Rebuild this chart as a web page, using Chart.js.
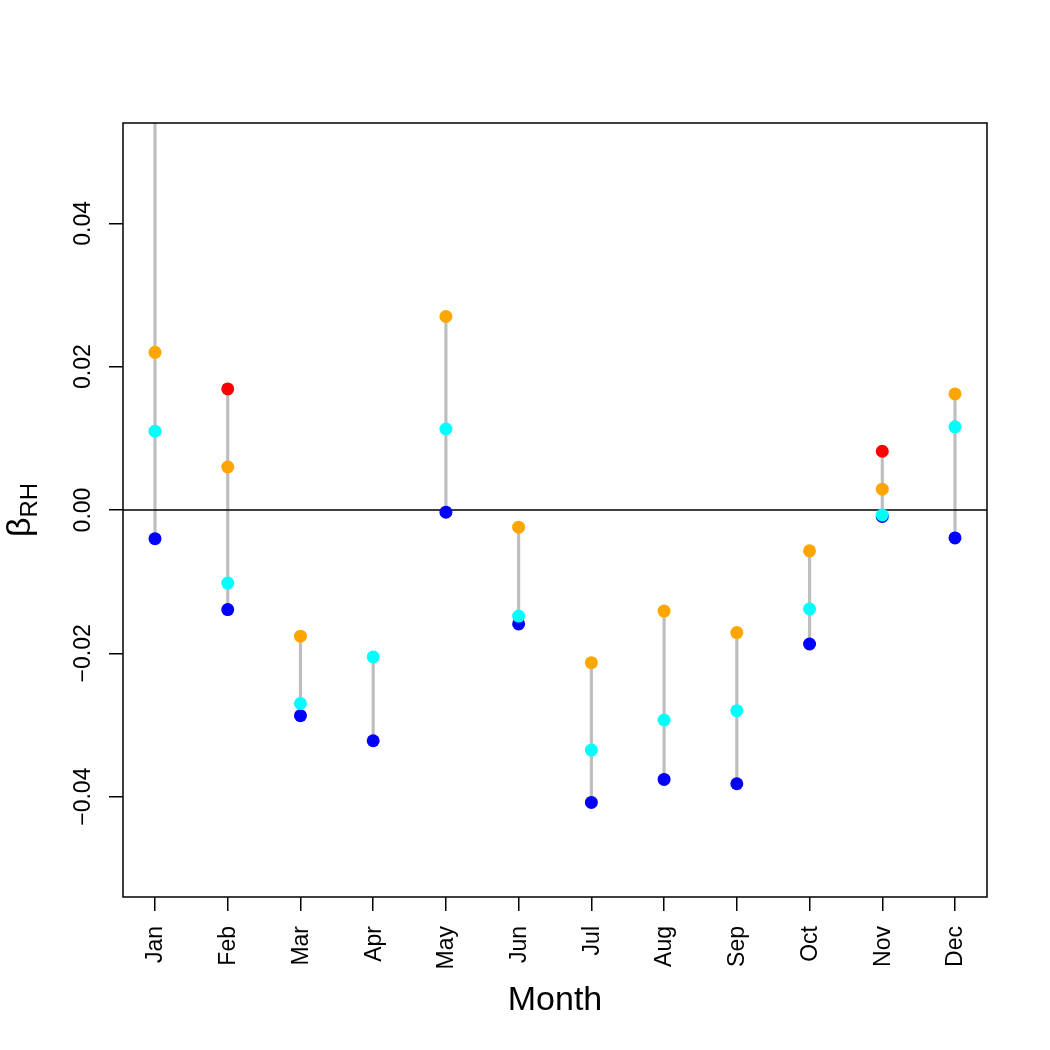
<!DOCTYPE html>
<html>
<head>
<meta charset="utf-8">
<script src="https://cdn.jsdelivr.net/npm/chart.js@4"></script>
<style>
  body { margin: 0; background: #fff; }
  canvas { display: block; }
</style>
</head>
<body>
<canvas id="chart" width="1050" height="1050"></canvas>
<script>
const months = ['Jan', 'Feb', 'Mar', 'Apr', 'May', 'Jun', 'Jul', 'Aug', 'Sep', 'Oct', 'Nov', 'Dec'];
const redVals = [0.070, 0.0169, null, null, null, null, null, null, null, null, 0.0082, null];
const orangeVals = [0.0220, 0.0060, -0.0176, null, 0.0270, -0.0024, -0.0213, -0.0141, -0.0171, -0.0057, 0.0029, 0.0162];
const cyanVals = [0.0110, -0.0102, -0.0270, -0.0205, 0.0113, -0.0148, -0.0335, -0.0293, -0.0280, -0.0138, -0.0007, 0.0116];
const blueVals = [-0.0040, -0.0139, -0.0287, -0.0322, -0.0003, -0.0159, -0.0408, -0.0376, -0.0382, -0.0187, -0.0009, -0.0039];
const yTicks = [-0.04, -0.02, 0.00, 0.02, 0.04];
const yTickLabels = ['\u22120.04', '\u22120.02', '0.00', '0.02', '0.04'];

const FONT = '"Liberation Sans", Arial, Helvetica, sans-serif';

function points(vals) {
    return vals.map((v, i) => ({ x: i + 1, y: v })).filter(p => p.y !== null);
}

// vertical range of each month, from the lowest to the highest point
const ranges = months.map((m, i) => {
    const vals = [redVals[i], orangeVals[i], cyanVals[i], blueVals[i]].filter(v => v !== null);
    return { x: i + 1, y: [Math.min(...vals), Math.max(...vals)] };
});

function dots(label, vals, color) {
    return {
        type: 'line',
        label: label,
        data: points(vals),
        showLine: false,
        pointRadius: 6.5,
        pointHoverRadius: 6.5,
        pointBackgroundColor: color,
        pointBorderWidth: 0,
        borderColor: color
    };
}

const rPlot = {
    id: 'rPlot',
    afterDatasetDraw(chart, args) {
        if (args.index !== 4) return;
        // zero line over the grey segments, under the dots
        const ctx = chart.ctx, a = chart.chartArea;
        const y0 = chart.scales.y.getPixelForValue(0);
        ctx.save();
        ctx.strokeStyle = '#000';
        ctx.lineWidth = 1.5;
        ctx.beginPath();
        ctx.moveTo(a.left, y0);
        ctx.lineTo(a.right, y0);
        ctx.stroke();
        ctx.restore();
    },
    afterDraw(chart) {
        const ctx = chart.ctx, a = chart.chartArea;
        const xs = chart.scales.x, ys = chart.scales.y;
        ctx.save();
        ctx.strokeStyle = '#000';
        ctx.lineWidth = 1.5;
        ctx.strokeRect(a.left, a.top, a.right - a.left, a.bottom - a.top);

        ctx.fillStyle = '#000';
        ctx.font = '23px ' + FONT;
        // month labels, vertical
        ctx.textAlign = 'right';
        ctx.textBaseline = 'middle';
        months.forEach((m, i) => {
            const x = xs.getPixelForValue(i + 1);
            ctx.save();
            ctx.translate(x + 1, a.bottom + 29);
            ctx.rotate(-Math.PI / 2);
            ctx.fillText(m, 0, 0);
            ctx.restore();
        });
        // y tick labels, vertical
        ctx.textAlign = 'center';
        ctx.textBaseline = 'alphabetic';
        yTicks.forEach((v, i) => {
            const y = ys.getPixelForValue(v);
            ctx.save();
            ctx.translate(a.left - 33, y);
            ctx.rotate(-Math.PI / 2);
            ctx.fillText(yTickLabels[i], 0, 0);
            ctx.restore();
        });

        // axis titles
        ctx.font = '34px ' + FONT;
        ctx.textAlign = 'center';
        ctx.textBaseline = 'alphabetic';
        ctx.fillText('Month', (a.left + a.right) / 2, a.bottom + 113);

        const mid = (a.top + a.bottom) / 2;
        ctx.save();
        ctx.translate(30, mid);
        ctx.rotate(-Math.PI / 2);
        ctx.font = '34px ' + FONT;
        const wb = ctx.measureText('\u03b2').width;
        ctx.font = '24px ' + FONT;
        const ws = ctx.measureText('RH').width;
        const start = -(wb + ws) / 2;
        ctx.textAlign = 'left';
        ctx.font = '34px ' + FONT;
        ctx.fillText('\u03b2', start, 0);
        ctx.font = '24px ' + FONT;
        ctx.fillText('RH', start + wb, 7);
        ctx.restore();

        ctx.restore();
    }
};

new Chart(document.getElementById('chart'), {
    type: 'bar',
    data: {
        datasets: [
            dots('red', redVals, '#FF0000'),
            dots('orange', orangeVals, '#FFA500'),
            dots('cyan', cyanVals, '#00FFFF'),
            dots('blue', blueVals, '#0000FF'),
            {
                type: 'bar',
                label: 'range',
                data: ranges,
                backgroundColor: '#BEBEBE',
                borderWidth: 0,
                barThickness: 2.5
            }
        ]
    },
    options: {
        responsive: false,
        animation: false,
        events: [],
        layout: { padding: { top: 123, right: 63, left: 0, bottom: 0 } },
        plugins: {
            legend: { display: false },
            tooltip: { enabled: false }
        },
        scales: {
            x: {
                type: 'linear',
                min: 0.56,
                max: 12.44,
                offset: false,
                afterBuildTicks: s => { s.ticks = months.map((m, i) => ({ value: i + 1 })); },
                afterFit: s => { s.height = 153; },
                ticks: { display: false },
                grid: { offset: false, drawOnChartArea: false, drawTicks: true, tickLength: 14, color: '#000', lineWidth: 1.5 },
                border: { display: false }
            },
            y: {
                type: 'linear',
                min: -0.054,
                max: 0.054,
                afterBuildTicks: s => { s.ticks = yTicks.map(v => ({ value: v })); },
                afterFit: s => { s.width = 123; },
                ticks: { display: false },
                grid: { drawOnChartArea: false, drawTicks: true, tickLength: 14, color: '#000', lineWidth: 1.5 },
                border: { display: false }
            }
        }
    },
    plugins: [rPlot]
});
</script>
</body>
</html>
